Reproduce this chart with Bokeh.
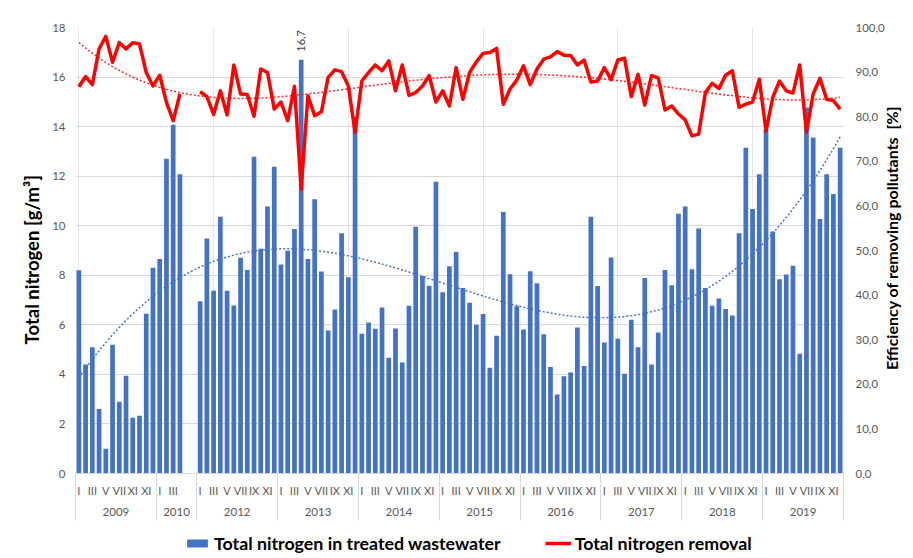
import math
import numpy as np
from bokeh.plotting import figure
from bokeh.layouts import column
from bokeh.models import (Range1d, LinearAxis, FixedTicker, ColumnDataSource,
                          Legend, LegendItem, LabelSet)
from bokeh.core.properties import value
from bokeh.embed import file_html
from bokeh.resources import INLINE

years = ["2009", "2010", "2012", "2013", "2014", "2015", "2016", "2017", "2018", "2019"]
roman = ["I", "II", "III", "IV", "V", "VI", "VII", "VIII", "IX", "X", "XI", "XII"]
months_2009 = ["I", "II", "III", "IV", "V", "VI", "VII", "VIII", "XI", "X", "XI", "XII"]
months_2010 = ["I", "II", "III", "IV", "", ""]

left_ticks = [0, 2, 4, 6, 8, 10, 12, 14, 16, 18]
right_ticks = [0, 10, 20, 30, 40, 50, 60, 70, 80, 90, 100]

# Total nitrogen in treated wastewater [g/m3]
tn_2009 = [8.2, 4.4, 5.1, 2.6, 1.0, 5.2, 2.9, 3.95, 2.25, 2.33, 6.45, 8.3]
tn_2010 = [8.66, 12.7, 14.08, 12.08, None, None]
tn_2012 = [6.95, 9.48, 7.38, 10.36, 7.38, 6.78, 8.71, 8.21, 12.78, 9.07, 10.78, 12.38]
tn_2013 = [8.43, 8.99, 9.87, 16.7, 8.66, 11.07, 8.15, 5.77, 6.62, 9.7, 7.92, 14.4]
tn_2014 = [5.64, 6.09, 5.84, 6.7, 4.67, 5.85, 4.48, 6.77, 9.96, 7.97, 7.58, 11.77]
tn_2015 = [7.32, 8.36, 8.94, 7.49, 6.89, 6.0, 6.44, 4.27, 5.56, 10.55, 8.04, 6.75]
tn_2016 = [5.81, 8.16, 7.68, 5.62, 4.3, 3.19, 3.92, 4.08, 5.89, 4.34, 10.36, 7.57]
tn_2017 = [5.29, 8.72, 5.44, 4.03, 6.21, 5.1, 7.89, 4.4, 5.69, 8.21, 7.6, 10.48]
tn_2018 = [10.78, 8.24, 9.89, 7.49, 6.77, 7.06, 6.64, 6.38, 9.7, 13.15, 10.67, 12.08]
tn_2019 = [13.9, 9.77, 7.84, 8.03, 8.38, 4.83, 14.77, 13.56, 10.27, 12.08, 11.28, 13.15]

# Total nitrogen removal efficiency [%]
rm_2009 = [86.7, 89.0, 87.2, 95.2, 98.0, 92.2, 96.6, 95.2, 96.6, 96.3, 89.9, 86.9]
rm_2010 = [89.3, 83.2, 79.1, 85.1, None, None]
rm_2012 = [85.6, 84.5, 80.5, 85.8, 80.4, 91.6, 85.1, 85.0, 80.1, 90.7, 89.9, 81.7]
rm_2013 = [83.3, 79.1, 86.8, 63.8, 84.7, 80.2, 81.1, 88.8, 90.5, 90.1, 86.9, 76.5]
rm_2014 = [88.0, 89.9, 91.6, 90.3, 92.5, 85.8, 91.6, 84.8, 85.4, 86.9, 89.2, 83.3]
rm_2015 = [85.8, 82.4, 91.0, 83.9, 89.9, 92.3, 94.2, 94.4, 95.3, 82.8, 86.2, 88.2]
rm_2016 = [91.4, 87.2, 90.7, 92.9, 93.4, 94.6, 93.8, 93.7, 91.6, 92.7, 87.8, 88.0]
rm_2017 = [91.0, 88.3, 92.7, 93.1, 84.5, 89.5, 82.6, 89.2, 88.7, 81.5, 82.4, 80.6]
rm_2018 = [79.3, 75.7, 76.1, 85.4, 87.5, 86.3, 89.3, 90.3, 82.1, 82.8, 83.3, 88.4]
rm_2019 = [76.8, 84.3, 88.0, 85.8, 85.3, 91.6, 76.5, 85.1, 88.6, 83.9, 83.6, 81.7]

tn_years = [tn_2009, tn_2010, tn_2012, tn_2013, tn_2014, tn_2015, tn_2016, tn_2017, tn_2018, tn_2019]
rm_years = [rm_2009, rm_2010, rm_2012, rm_2013, rm_2014, rm_2015, rm_2016, rm_2017, rm_2018, rm_2019]
month_sets = [months_2009, months_2010] + [roman] * 8

slot_labels, tn, rm, groups = [], [], [], []
for yr, ms, t, r in zip(years, month_sets, tn_years, rm_years):
    start = len(slot_labels)
    slot_labels += ms
    tn += t
    rm += r
    groups.append((yr, start, len(slot_labels)))
n = len(slot_labels)
xs = np.arange(n, dtype=float)
tn_arr = np.array([np.nan if v is None else v for v in tn])
rm_arr = np.array([np.nan if v is None else v for v in rm])

BLUE = "#4472C4"
RED = "#FF0000"
GRID = "#D9D9D9"
TXT = "#595959"
FONT = "Lato"

p = figure(width=913, height=528, x_range=Range1d(-0.5, n - 0.5), y_range=Range1d(0, 18),
           output_backend="svg", toolbar_location=None, x_axis_location=None,
           min_border_left=75, min_border_right=70, min_border_top=27, min_border_bottom=55)
p.outline_line_color = None
p.extra_y_ranges = {"pct": Range1d(0, 100)}

p.ygrid.ticker = FixedTicker(ticks=left_ticks)
p.ygrid.grid_line_color = GRID
p.ygrid.grid_line_width = 1

ya = p.yaxis[0]
ya.ticker = FixedTicker(ticks=left_ticks)
ya.axis_line_color = None
ya.major_tick_line_color = None
ya.minor_tick_line_color = None
ya.major_tick_out = 0
ya.minor_tick_out = 0
ya.major_label_text_font = FONT
ya.major_label_text_font_size = "11.5px"
ya.major_label_text_color = TXT
ya.major_label_standoff = 10
ya.axis_label = "Total nitrogen [g/m³]\u00a0\u2003"
ya.axis_label_text_font = FONT
ya.axis_label_text_font_style = "bold"
ya.axis_label_text_font_size = "18.5px"
ya.axis_label_text_color = "black"
ya.axis_label_standoff = 6

ra = LinearAxis(y_range_name="pct", ticker=FixedTicker(ticks=right_ticks),
                major_label_overrides={t: f"{t:.1f}".replace(".", ",") for t in right_ticks})
ra.axis_line_color = None
ra.major_tick_line_color = None
ra.minor_tick_line_color = None
ra.major_tick_out = 0
ra.minor_tick_out = 0
ra.major_label_text_font = FONT
ra.major_label_text_font_size = "11.5px"
ra.major_label_text_color = TXT
ra.major_label_standoff = 12
# bottom-to-top title, started from the lower end of the axis
ra.axis_label = "\u2003" * 7 + "\u00a0" * 5 + "Efficiency of removing pollutants\u00a0 [%]"
ra.axis_label_orientation = math.pi / 2
ra.axis_label_align = "start"
ra.axis_label_text_font = FONT
ra.axis_label_text_font_style = "bold"
ra.axis_label_text_font_size = "16px"
ra.axis_label_text_color = "black"
ra.axis_label_standoff = 4
p.add_layout(ra, "right")

even = [i for i in range(n) if i % 2 == 0]
bounds = [g[1] - 0.5 for g in groups] + [n - 0.5]
ma = LinearAxis(ticker=FixedTicker(ticks=even, minor_ticks=bounds),
                major_label_overrides={i: slot_labels[i] for i in even})
ma.axis_line_color = GRID
ma.major_tick_line_color = None
ma.major_tick_out = 0
ma.major_tick_in = 0
ma.minor_tick_line_color = GRID
ma.minor_tick_out = 47
ma.minor_tick_in = 0
ma.major_label_text_font = FONT
ma.major_label_text_font_size = "11px"
ma.major_label_text_color = TXT
ma.major_label_standoff = -37
p.add_layout(ma, "below")

centers = [(g[1] + g[2] - 1) / 2 for g in groups]
ga = LinearAxis(ticker=FixedTicker(ticks=centers),
                major_label_overrides={c: g[0] for c, g in zip(centers, groups)})
ga.axis_line_color = None
ga.major_tick_line_color = None
ga.minor_tick_line_color = None
ga.major_label_text_font = FONT
ga.major_label_text_font_size = "11.5px"
ga.major_label_text_color = TXT
ga.major_label_standoff = 2
p.add_layout(ga, "below")

mask = ~np.isnan(tn_arr)
bar_src = ColumnDataSource(dict(x=xs[mask], top=tn_arr[mask]))
bar_style = dict(fill_color=BLUE, line_color=None)
p.vbar(x="x", top="top", width=0.7, source=bar_src, **bar_style)


def trend(yv, order):
    m = ~np.isnan(yv)
    c = np.polyfit(xs[m], yv[m], order)
    xx = np.linspace(0, n - 1, 400)
    return xx, np.polyval(c, xx)


tx, ty = trend(tn_arr, 3)
p.line(tx, ty, color=BLUE, line_width=1.5, line_dash="2 2")

rx, ry = trend(rm_arr, 4)
p.line(rx, ry, color=RED, line_width=1.5, line_dash="2 2", alpha=0.85, y_range_name="pct")

line_style = dict(color=RED, line_width=3.5, line_join="round")
p.line(xs, rm_arr, y_range_name="pct", **line_style)

imax = int(np.nanargmax(tn_arr))
lab_src = ColumnDataSource(dict(x=[xs[imax]], y=[tn_arr[imax]],
                                text=[f"{tn_arr[imax]:.1f}".replace(".", ",")]))
p.add_layout(LabelSet(x="x", y="y", text="text", source=lab_src, angle=math.pi / 2,
                      text_align="left", text_baseline="middle", y_offset=8,
                      text_font=value(FONT), text_font_size=value("11px"), text_color="#404040"))

# legend strip below the chart (proxy renderers carry the series styles, no visible data)
lf = figure(width=913, height=30, x_range=Range1d(0, 1), y_range=Range1d(0, 1),
            output_backend="svg", toolbar_location=None,
            x_axis_location=None, y_axis_location=None,
            min_border_left=0, min_border_right=0, min_border_top=0, min_border_bottom=0)
lf.outline_line_color = None
lf.xgrid.visible = False
lf.ygrid.visible = False
nan1 = np.array([np.nan])
bar_proxy = lf.vbar(x=nan1, top=nan1, width=0.7, **bar_style)
line_proxy = lf.line(x=nan1, y=nan1, **line_style)
legend = Legend(items=[LegendItem(label="Total nitrogen in treated wastewater", renderers=[bar_proxy]),
                       LegendItem(label="Total nitrogen removal", renderers=[line_proxy])],
                orientation="horizontal", location=(109, 4))
legend.padding = 3
legend.margin = 0
legend.spacing = 44
legend.glyph_width = 26
legend.glyph_height = 10
legend.label_height = 20
legend.label_standoff = 4
legend.border_line_color = None
legend.background_fill_alpha = 0
legend.label_text_font = FONT
legend.label_text_font_style = "bold"
legend.label_text_font_size = "17.8px"
legend.label_text_color = "black"
lf.add_layout(legend)

layout = column(p, lf, spacing=0)
open("out.html", "w").write(file_html(layout, INLINE))
